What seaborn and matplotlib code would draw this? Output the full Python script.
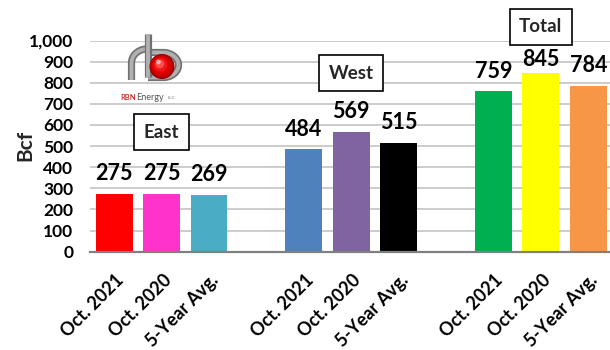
import numpy as np
import pandas as pd
import matplotlib
matplotlib.use("Agg")
import matplotlib.pyplot as plt
import matplotlib.transforms as mtransforms
from matplotlib.patches import Circle
import seaborn as sns

# ---- data -------------------------------------------------------------
regions = ["East", "West", "Total"]
periods = ["Oct. 2021", "Oct. 2020", "5-Year Avg."]
east_bcf = [275, 275, 269]
west_bcf = [484, 569, 515]
total_bcf = [759, 845, 784]
bar_colors = ["#FF0000", "#FF33CC", "#4BACC6",
              "#4F81BD", "#8064A2", "#000000",
              "#00B050", "#FFFF00", "#F79646"]
y_ticks = [0, 100, 200, 300, 400, 500, 600, 700, 800, 900, 1000]
y_label = "Bcf"

# ---- table: one row per bar, groups separated by an empty slot --------
rows = []
for g, (region, vals) in enumerate(zip(regions, [east_bcf, west_bcf, total_bcf])):
    for p, (period, v) in enumerate(zip(periods, vals)):
        rows.append({"region": region, "period": period, "bcf": v,
                     "slot": g * 4 + p, "key": f"{region} {period}"})
df = pd.DataFrame(rows)
palette = dict(zip(df["key"], bar_colors))

sns.set_theme(style="white")
plt.rcParams["font.family"] = ["Lato", "DejaVu Sans"]

W, H = 610, 350
fig = plt.figure(figsize=(W / 100, H / 100), dpi=100)
ax = fig.add_axes([90 / W, (H - 251.7) / H, 1 - 90 / W, (251.7 - 40.5) / H])

sns.barplot(data=df, x="slot", y="bcf", hue="key", palette=palette,
            native_scale=True, width=0.775, saturation=1, legend=False,
            linewidth=0, ax=ax)

ax.set_xlim(-0.51, 10.46)
ax.set_ylim(0, 1000)
ax.set_yticks(y_ticks)
ax.set_yticklabels([f"{t:,}" for t in y_ticks], fontsize=12.5, fontweight="bold")
ax.yaxis.grid(True, color="#C8C8C8", lw=1.3)
ax.xaxis.grid(False)
ax.set_axisbelow(True)
for s in ["top", "right", "left"]:
    ax.spines[s].set_visible(False)
ax.spines["bottom"].set_color("#808080")
ax.spines["bottom"].set_linewidth(1.6)
ax.tick_params(axis="y", length=0, pad=12, colors="black")
ax.tick_params(axis="x", length=0, pad=14, colors="black")
ax.set_xlabel("")
ax.set_ylabel("")

ax.set_xticks(df["slot"])
ax.set_xticklabels(df["period"], rotation=45, ha="right", va="top",
                   rotation_mode="anchor", fontsize=13, fontweight="bold")
shift = mtransforms.ScaledTranslation(1 / 100, 0, fig.dpi_scale_trans)
for lab in ax.get_xticklabels():
    lab.set_transform(lab.get_transform() + shift)

# value labels above each bar; the tallest one sits a little lower under its box
nudge_pts = {"Total Oct. 2020": -4.5}
for _, r in df.iterrows():
    ax.annotate(f"{r['bcf']}", (r["slot"], r["bcf"]),
                xytext=(0, 10 + nudge_pts.get(r["key"], 0)),
                textcoords="offset points", ha="center", va="baseline",
                fontsize=15.5, fontweight="bold", color="black")

# boxed region names
box_pos = {"East": (1, 565), "West": (5, 845), "Total": (9, 1064)}
for region in regions:
    bx, by = box_pos[region]
    ax.text(bx, by, region, ha="center", va="center", fontsize=13.5,
            fontweight="bold", clip_on=False, zorder=5,
            bbox=dict(boxstyle="square,pad=0.5", fc="white", ec="black", lw=1.2))

fig.text(25 / W, 1 - 145 / H, y_label, rotation=90, ha="center", va="center",
         fontsize=15, fontweight="bold")

# ---- company logo (pixel coordinates) ---------------------------------
lax = fig.add_axes([0, 0, 1, 1], zorder=10)
lax.set_xlim(0, W)
lax.set_ylim(H, 0)
lax.axis("off")
lax.patch.set_alpha(0)

pipe_dark, pipe_light = "#707070", "#B0B0B0"
def pipe(xs, ys):
    lax.plot(xs, ys, color=pipe_dark, lw=5.2, solid_capstyle="butt")
    lax.plot(xs, ys, color=pipe_light, lw=2.8, solid_capstyle="butt")

# "r" arch
t = np.linspace(np.pi, 1.5 * np.pi, 30)
pipe(np.r_[131.5, 147 + 15.5 * np.cos(t)], np.r_[80, 63 + 14 * np.sin(t)])
# "b" bowl
t3 = np.linspace(-0.5 * np.pi, 0.5 * np.pi, 60)
pipe(np.r_[148, 163 + 15.5 * np.cos(t3), 148],
     np.r_[52.5, 65 + 12.5 * np.sin(t3), 77.5])
# stem
pipe([148, 148], [34, 77])

# red ball with a soft highlight
for rad, col in [(11.8, "#8B0000"), (10.8, "#C00000"), (8.8, "#E00000"),
                 (6.2, "#F21515"), (3.6, "#FF4D4D")]:
    lax.add_patch(Circle((162 - (11.8 - rad) * 0.25, 66.5 - (11.8 - rad) * 0.3),
                         rad, color=col, zorder=3))
lax.add_patch(Circle((158.5, 62), 1.6, color="#FFB0B0", zorder=4))

lax.text(120, 97, "RBN", color="#C00000", fontsize=5.5, va="center", ha="left")
lax.text(136, 97, "Energy", color="#555555", fontsize=6.5, va="center", ha="left")
lax.text(168, 98, "LLC", color="#777777", fontsize=3.2, va="center", ha="left")

fig.savefig("out.png", dpi=100, facecolor="white")
